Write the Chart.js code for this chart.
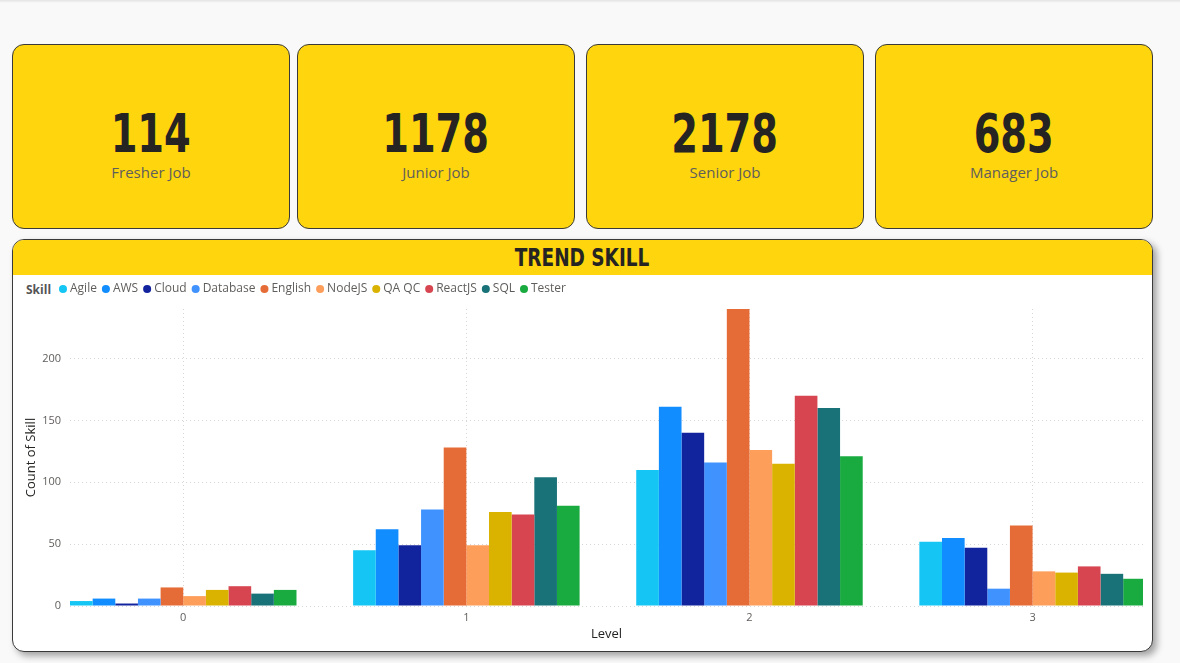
<!DOCTYPE html>
<html>
<head>
<meta charset="utf-8">
<script src="https://cdn.jsdelivr.net/npm/chart.js@4.4.1/dist/chart.umd.min.js"></script>
<style>
  html, body { margin: 0; padding: 0; }
  body { width: 1180px; height: 663px; background: #f9f9f9; position: relative; overflow: hidden; font-family: "Open Sans", "Noto Sans", sans-serif; }
  .topbar { position: absolute; left: 0; top: 0; width: 1180px; height: 3px; background: linear-gradient(#e4e4e4, #f9f9f9); }
  .card { position: absolute; top: 44px; width: 276px; height: 183px; background: #FFD50D; border: 1px solid #3a3a3a; border-radius: 12px; }
  .card .num { position: absolute; left: 0; right: 0; top: 89px; transform: translateY(-50%); text-align: center; line-height: 1; }
  .card .num span { display: inline-block; transform: scaleX(0.79);
     font-family: "DejaVu Sans Condensed", "DejaVu Sans", sans-serif; font-weight: bold; font-size: 54px; color: #252423; }
  .card .lbl { position: absolute; left: 0; right: 0; top: 120px; text-align: center; font-size: 15px; color: #605E5C; line-height: 1; font-weight: 400; }
  .panel { position: absolute; left: 12px; top: 239px; width: 1139px; height: 411px; background: #fff; border: 1px solid #3a3a3a; border-radius: 12px;
     box-shadow: 4px 4px 7px rgba(0,0,0,0.35); overflow: hidden; }
  .panel .head { position: absolute; left: 0; top: 0; width: 100%; height: 35px; background: #FFD50D; }
  .panel .title { position: absolute; left: 0; right: 0; top: 17px; transform: translateY(-50%); text-align: center; line-height: 1; }
  .panel .title span { display: inline-block; transform: scaleX(0.82);
     font-family: "DejaVu Sans Condensed", "DejaVu Sans", sans-serif; font-weight: bold; font-size: 25px; color: #252423; }
  .skill { position: absolute; left: 13px; top: 50px; transform: translateY(-50%); font-size: 12px; font-weight: bold; color: #555; line-height: 1; }
  .chartbox { position: absolute; left: -1px; top: 35px; width: 1141px; height: 377px; }
</style>
</head>
<body>
<div class="topbar"></div>
<div id="cards"></div>
<div class="panel">
  <div class="head"><div class="title"><span>TREND SKILL</span></div></div>
  <div class="skill">Skill</div>
  <div class="chartbox"><canvas id="c" width="1141" height="377"></canvas></div>
</div>
<script>
// ---- Data ----
const cardValues = [114, 1178, 2178, 683];
const cardLabels = ['Fresher Job', 'Junior Job', 'Senior Job', 'Manager Job'];

const levels = [0, 1, 2, 3];
const skills = ['Agile', 'AWS', 'Cloud', 'Database', 'English', 'NodeJS', 'QA QC', 'ReactJS', 'SQL', 'Tester'];
const agile    = [4, 45, 110, 52];
const aws      = [6, 62, 161, 55];
const cloud    = [2, 49, 140, 47];
const database = [6, 78, 116, 14];
const english  = [15, 128, 240, 65];
const nodejs   = [8, 49, 126, 28];
const qaqc     = [13, 76, 115, 27];
const reactjs  = [16, 74, 170, 32];
const sql      = [10, 104, 160, 26];
const tester   = [13, 81, 121, 22];
const yTicks = [0, 50, 100, 150, 200];

// ---- Styles ----
const seriesValues = [agile, aws, cloud, database, english, nodejs, qaqc, reactjs, sql, tester];
const colors = ['#15C6F4', '#118DFF', '#12239E', '#4092FF', '#E66C37', '#FE9E5B', '#D9B300', '#D64550', '#197278', '#1AAB40'];
const cardLefts = [12, 297, 586, 875];

const cardsEl = document.getElementById('cards');
cardValues.forEach((v, i) => {
  const d = document.createElement('div');
  d.className = 'card';
  d.style.left = cardLefts[i] + 'px';
  d.innerHTML = '<div class="num"><span>' + v + '</span></div><div class="lbl">' + cardLabels[i] + '</div>';
  cardsEl.appendChild(d);
});

const datasets = skills.map((s, i) => ({
  label: s,
  data: levels.map((l, j) => ({ x: l, y: seriesValues[i][j] })),
  backgroundColor: colors[i],
  borderWidth: 0,
  categoryPercentage: 0.8,
  barPercentage: 1.0
}));

const layoutTweak = {
  id: 'layoutTweak',
  beforeLayout(chart) {
    const lg = chart.legend;
    if (lg && !lg._wrapped) {
      const f = lg.fit;
      lg.fit = function () { f.call(this); this.height += 4; };
      lg._wrapped = true;
    }
  },
  afterLayout(chart) {
    if (chart.legend) chart.legend.left += 42;
  }
};

const font = 'Open Sans';
new Chart(document.getElementById('c'), {
  type: 'bar',
  data: { datasets },
  plugins: [layoutTweak],
  options: {
    responsive: false,
    animation: false,
    layout: { padding: { left: 0, right: 10, top: 0, bottom: 0 } },
    plugins: {
      tooltip: { enabled: false },
      legend: {
        position: 'top',
        align: 'start',
        labels: {
          usePointStyle: true,
          pointStyle: 'circle',
          boxWidth: 2,
          boxHeight: 5.7,
          padding: 8,
          color: '#605E5C',
          font: { family: font, size: 12 }
        }
      }
    },
    scales: {
      x: {
        type: 'linear',
        offset: false,
        min: -0.4,
        max: 3.39,
        afterBuildTicks(scale) { scale.ticks = levels.map(v => ({ value: v })); },
        afterFit(scale) { scale.height = 46; },
        ticks: { padding: 5, color: '#605E5C', font: { family: font, size: 11 }, callback: v => String(v) },
        grid: { offset: false, color: '#d6d6d6', drawTicks: false, lineWidth: 1 },
        border: { display: false, dash: [1, 3] },
        title: { display: true, text: 'Level', color: '#252423', font: { family: font, size: 13 }, padding: { top: 2, bottom: 10 } }
      },
      y: {
        min: 0,
        max: 240,
        afterBuildTicks(scale) { scale.ticks = yTicks.map(v => ({ value: v })); },
        afterFit(scale) { scale.width = 58; },
        ticks: { padding: 9, color: '#605E5C', font: { family: font, size: 11 } },
        grid: { color: '#d6d6d6', drawTicks: false, lineWidth: 1 },
        border: { display: false, dash: [1, 3] },
        title: { display: true, text: 'Count of Skill', color: '#252423', font: { family: font, size: 13 }, padding: { top: 11, bottom: 4 } }
      }
    }
  }
});
</script>
</body>
</html>
